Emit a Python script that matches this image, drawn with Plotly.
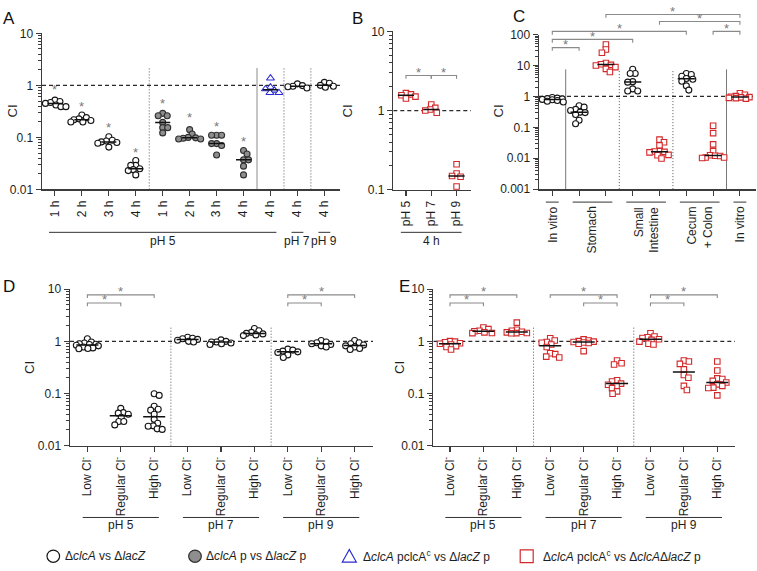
import numpy as np
import plotly.graph_objects as go

W, H = 757, 571
FONT = "Liberation Sans, Arial, Helvetica, sans-serif"
AXC = "#3c3c3c"
TXT = "#1e1e1e"
STAR = "#7a7a7a"

# ---------------- Panel A ----------------
a_ticklabels = ["1 h", "2 h", "3 h", "4 h", "1 h", "2 h", "3 h", "4 h", "4 h", "4 h", "4 h"]
a_kinds = ["open", "open", "open", "open", "gray", "gray", "gray", "gray", "tri", "open", "open"]
a_values = [
    [0.52, 0.49, 0.47, 0.45, 0.42, 0.39, 0.39],
    [0.27, 0.24, 0.227, 0.218, 0.211, 0.197, 0.197],
    [0.103, 0.088, 0.085, 0.082, 0.08, 0.077, 0.065],
    [0.036, 0.029, 0.029, 0.025, 0.024, 0.023, 0.019],
    [0.29, 0.26, 0.26, 0.194, 0.154, 0.154, 0.122],
    [0.141, 0.116, 0.1, 0.098, 0.096, 0.093, 0.093],
    [0.11, 0.11, 0.11, 0.076, 0.076, 0.07, 0.046],
    [0.056, 0.048, 0.037, 0.037, 0.028, 0.019],
    [1.37, 0.92, 0.85, 0.8, 0.72, 0.72],
    [1.07, 0.99, 0.96, 0.94, 0.89],
    [1.14, 1.1, 1.0, 0.96, 0.92],
]
a_star_levels = [0.89, 0.43, 0.17, 0.055, 0.48, 0.26, 0.18, 0.09]
a_group_labels = ["pH 5", "pH 7", "pH 9"]
a_group_spans = [(0, 8), (9, 9), (10, 10)]

# ---------------- Panel B ----------------
b_ticklabels = ["pH 5", "pH 7", "pH 9"]
b_kinds = ["sq", "sq", "sq"]
b_values = [
    [1.66, 1.6, 1.56, 1.5, 1.42],
    [1.19, 1.08, 1.03, 1.0, 0.94],
    [0.21, 0.16, 0.149, 0.146, 0.11],
]
b_brackets = [(0, 1, 2.77), (1, 2, 2.77)]
b_group_labels = ["4 h"]
b_group_spans = [(0, 2)]

# ---------------- Panel C ----------------
c_kinds = ["open", "open", "sq", "open", "sq", "open", "sq", "sq"]
c_values = [
    [0.92, 0.88, 0.85, 0.83, 0.8, 0.78, 0.74, 0.7, 0.66],
    [0.5, 0.45, 0.38, 0.35, 0.31, 0.3, 0.26, 0.17, 0.13],
    [48, 33, 26, 12, 11, 10.5, 10, 8.9, 7.8, 6.2],
    [7.6, 5.5, 5.5, 3.0, 2.9, 1.75, 1.5, 1.5],
    [0.04, 0.033, 0.026, 0.017, 0.0165, 0.016, 0.0155, 0.0128, 0.0125, 0.0098],
    [5.5, 5.1, 4.5, 3.8, 3.6, 3.1, 2.2, 1.6],
    [0.113, 0.065, 0.028, 0.017, 0.0125, 0.012, 0.0118, 0.0105, 0.0105, 0.0102],
    [1.27, 1.13, 1.02, 0.98, 0.95, 0.93, 0.9, 0.88, 0.85],
]
c_group_labels = ["In vitro", "Stomach", "Small<br>Intestine", "Cecum<br>+ Colon", "In vitro"]
c_group_spans = [(0, 0), (1, 2), (3, 4), (5, 6), (7, 7)]
c_brackets = [(0, 1, 38), (0, 3, 70), (0, 5, 127), (6, 7, 127), (4, 7, 265), (2, 7, 450)]

# ---------------- Panel D ----------------
cl_ticklabels = ["Low Cl<sup>-</sup>", "Regular Cl<sup>-</sup>", "High Cl<sup>-</sup>"] * 3
ph_group_labels = ["pH 5", "pH 7", "pH 9"]
ph_group_spans = [(0, 2), (3, 5), (6, 8)]
d_kinds = ["open"] * 9
d_values = [
    [1.12, 0.97, 0.93, 0.9, 0.88, 0.87, 0.84, 0.82, 0.78, 0.75, 0.73, 0.72],
    [0.052, 0.043, 0.042, 0.04, 0.035, 0.029, 0.029, 0.025],
    [0.099, 0.092, 0.057, 0.05, 0.048, 0.04, 0.032, 0.027, 0.024, 0.0235, 0.021, 0.0205],
    [1.2, 1.15, 1.12, 1.09, 1.05, 1.0, 0.97],
    [1.07, 1.0, 0.97, 0.97, 0.93, 0.9, 0.87],
    [1.77, 1.6, 1.49, 1.42, 1.39, 1.33, 1.29],
    [0.71, 0.68, 0.65, 0.63, 0.61, 0.55, 0.49],
    [1.04, 0.97, 0.94, 0.9, 0.87, 0.82, 0.78],
    [1.04, 0.94, 0.9, 0.85, 0.82, 0.78, 0.73, 0.7],
]
d_brackets = [(0, 1, 5.45), (0, 2, 7.8), (6, 7, 5.45), (6, 8, 7.8)]

# ---------------- Panel E ----------------
e_kinds = ["sq"] * 9
e_values = [
    [1.01, 0.99, 0.96, 0.92, 0.9, 0.87, 0.81, 0.78, 0.7],
    [1.85, 1.72, 1.6, 1.56, 1.49, 1.45, 1.44],
    [2.29, 1.67, 1.6, 1.53, 1.49, 1.45, 1.44, 1.43],
    [1.15, 1.04, 0.97, 0.94, 0.87, 0.78, 0.59, 0.57, 0.51, 0.49],
    [1.09, 1.04, 1.01, 0.99, 0.97, 0.95, 0.93, 0.9, 0.65],
    [0.43, 0.38, 0.36, 0.18, 0.17, 0.155, 0.147, 0.14, 0.127, 0.11, 0.099],
    [1.43, 1.24, 1.2, 1.16, 1.1, 1.07, 0.99, 0.9, 0.87],
    [0.43, 0.41, 0.37, 0.29, 0.226, 0.2, 0.14, 0.117],
    [0.41, 0.276, 0.195, 0.19, 0.175, 0.163, 0.15, 0.14, 0.13, 0.128, 0.092],
]
e_brackets = [(0, 1, 5.45), (0, 2, 7.8), (3, 5, 7.8), (4, 5, 5.45), (6, 7, 5.45), (6, 8, 7.8)]

# ---------------- legend ----------------
legend_texts = [
    "Δ<i>clcA</i> vs Δ<i>lacZ</i>",
    "Δ<i>clcA</i> p vs Δ<i>lacZ</i> p",
    "Δ<i>clcA</i> pclcA<sup>c</sup> vs Δ<i>lacZ</i> p",
    "Δ<i>clcA</i> pclcA<sup>c</sup> vs Δ<i>clcA</i>Δ<i>lacZ</i> p",
]
legend_kinds = ["open", "gray", "tri", "sq"]

# ================= styling / layout =================
STYLE = {
    "open": dict(symbol="circle", size=6, color="white", line=dict(color="#151515", width=1.1)),
    "gray": dict(symbol="circle", size=6, color="#8e8e8e", line=dict(color="#303030", width=1.1)),
    "tri": dict(symbol="triangle-up", size=7, color="white", line=dict(color="#2a2ad2", width=1.1)),
    "sq": dict(symbol="square", size=5.5, color="white", line=dict(color="#d2282a", width=1.1)),
}

PANELS = {
    "A": dict(n="", xdom=(42, 340), ydom=(187, 27), xr=(-0.48, 10.58), yr=(-2, 1), ppc=26.93, ppd=53.4, hw=0.28),
    "B": dict(n="2", xdom=(393.3, 471), ydom=(187.3, 25), xr=(-0.5, 2.57), yr=(-1, 1), ppc=25.3, ppd=81.1, hw=0.32),
    "C": dict(n="3", xdom=(539, 756), ydom=(186.7, 28.3), xr=(-0.496, 7.6), yr=(-3, 2), ppc=26.8, ppd=31.68, hw=0.32),
    "D": dict(n="4", xdom=(70, 373), ydom=(449.7, 289.3), xr=(-0.52, 8.55), yr=(-2, 1), ppc=33.4, ppd=53.5, hw=0.33),
    "E": dict(n="5", xdom=(433.3, 735), ydom=(449.7, 289.3), xr=(-0.5, 8.53), yr=(-2, 1), ppc=33.4, ppd=53.5, hw=0.33),
}


def pxx(p):
    return p / W


def pxy(p):
    return 1 - p / H


def swarm(vals, ppd, ppc, d=5.0, lim=11.0):
    """Simple beeswarm: horizontal pixel offsets so markers do not pile up."""
    y = np.log10(np.asarray(vals, float)) * ppd
    xs = np.zeros(len(y))
    placed = []
    cands = np.arange(-lim, lim + 0.01, 0.5)
    for k, i in enumerate(np.argsort(-y, kind="stable")):
        sgn = 1 if k % 2 == 0 else -1
        order = sorted(cands, key=lambda c: (abs(c), sgn * c))
        best, best_cost = 0.0, None
        for c in order:
            cost = sum(max(0.0, d * d - ((c - px) ** 2 + (y[i] - py) ** 2)) for px, py in placed)
            if cost == 0:
                best = c
                break
            if best_cost is None or cost < best_cost - 1e-9:
                best, best_cost = c, cost
        xs[i] = best
        placed.append((best, y[i]))
    return xs / ppc


fig = go.Figure()
layout = dict(
    width=W, height=H, margin=dict(l=0, r=0, t=0, b=0),
    paper_bgcolor="white", plot_bgcolor="rgba(0,0,0,0)",
    showlegend=False, font=dict(family=FONT, size=12, color=TXT),
)
shapes = []
annotations = []


def axis_pair(key, xticktext, yticks, nticks=None):
    P = PANELS[key]
    n = P["n"]
    xa, ya = "x" + n, "y" + n
    minor_vals = [m * 10.0 ** e for e in range(P["yr"][0], P["yr"][1]) for m in range(2, 10)]
    count = len(xticktext) if xticktext else nticks
    xax = dict(
        domain=[pxx(P["xdom"][0]), pxx(P["xdom"][1])], range=list(P["xr"]), anchor=ya,
        showline=True, linecolor=AXC, linewidth=1.4, ticks="outside", ticklen=5,
        tickwidth=1.1, tickcolor=AXC, tickvals=list(range(count)),
        tickangle=-90, tickfont=dict(family=FONT, size=12, color=TXT),
        showgrid=False, zeroline=False, fixedrange=True,
    )
    if xticktext:
        xax["ticktext"] = xticktext
    else:
        xax["showticklabels"] = False
    layout["xaxis" + n] = xax
    layout["yaxis" + n] = dict(
        domain=[pxy(P["ydom"][0]), pxy(P["ydom"][1])], type="log", range=list(P["yr"]),
        anchor=xa, showline=True, linecolor=AXC, linewidth=1.4, ticks="outside",
        ticklen=5, tickwidth=1.1, tickcolor=AXC,
        tickvals=yticks, ticktext=[("%g" % v) for v in yticks],
        tickfont=dict(family=FONT, size=12, color=TXT),
        minor=dict(tickvals=minor_vals, ticks="outside", ticklen=3, tickwidth=1, tickcolor=AXC),
        showgrid=False, zeroline=False, fixedrange=True,
    )
    return xa, ya


def add_refline(key, xa, ya):
    P = PANELS[key]
    fig.add_trace(go.Scatter(x=list(P["xr"]), y=[1, 1], mode="lines", xaxis=xa, yaxis=ya,
                             line=dict(color="#2a2a2a", width=1.2, dash="4px,3px"), hoverinfo="skip"))


def add_sep(key, xa, ya, pos, top, style):
    P = PANELS[key]
    if style == "dot":
        ln = dict(color="#555555", width=1, dash="1px,2px")
    elif style == "light":
        ln = dict(color="#b8b8b8", width=1.6)
    else:
        ln = dict(color="#777777", width=1)
    fig.add_trace(go.Scatter(x=[pos, pos], y=[10.0 ** P["yr"][0], top], mode="lines", xaxis=xa,
                             yaxis=ya, line=ln, hoverinfo="skip"))


def add_groups(key, xa, ya, kinds, values):
    P = PANELS[key]
    for i, (k, v) in enumerate(zip(kinds, values)):
        off = swarm(v, P["ppd"], P["ppc"])
        st = STYLE[k]
        fig.add_trace(go.Scatter(x=i + off, y=v, mode="markers", xaxis=xa, yaxis=ya,
                                 marker=dict(symbol=st["symbol"], size=st["size"], color=st["color"],
                                             line=st["line"]), hoverinfo="skip", cliponaxis=False))
    for i, v in enumerate(values):
        med = float(np.median(v))
        fig.add_trace(go.Scatter(x=[i - P["hw"], i + P["hw"]], y=[med, med], mode="lines", xaxis=xa,
                                 yaxis=ya, line=dict(color="#111111", width=1.5), hoverinfo="skip"))


def add_brackets(key, xa, ya, brackets):
    P = PANELS[key]
    drop = 10 ** (-3.3 / P["ppd"])
    for i, j, lev in brackets:
        fig.add_trace(go.Scatter(x=[i, i, j, j], y=[lev * drop, lev, lev, lev * drop], mode="lines",
                                 xaxis=xa, yaxis=ya, line=dict(color="#8a8a8a", width=1.1),
                                 hoverinfo="skip"))
        annotations.append(dict(x=(i + j) / 2, y=np.log10(lev), xref=xa, yref=ya, text="*",
                                showarrow=False, font=dict(size=13, color=STAR, family=FONT),
                                xanchor="center", yanchor="middle", yshift=3))


def add_group_lines(xa, spans, labels, line_py, text_py, pad):
    for (i, j), lab in zip(spans, labels):
        shapes.append(dict(type="line", xref=xa, yref="paper", x0=i - pad, x1=j + pad,
                           y0=pxy(line_py), y1=pxy(line_py), line=dict(color="#333333", width=1)))
        annotations.append(dict(x=(i + j) / 2, y=pxy(text_py), xref=xa, yref="paper", text=lab,
                                showarrow=False, yanchor="middle", xanchor="center",
                                font=dict(size=12, color=TXT, family=FONT)))


# ---- Panel A
xa, ya = axis_pair("A", a_ticklabels, [0.01, 0.1, 1, 10])
add_refline("A", xa, ya)
for pos, sty in [(3.5, "dot"), (7.5, "light"), (8.5, "dot"), (9.5, "dot")]:
    add_sep("A", xa, ya, pos, 2.15, sty)
add_groups("A", xa, ya, a_kinds, a_values)
for i, lev in enumerate(a_star_levels):
    annotations.append(dict(x=i, y=np.log10(lev), xref=xa, yref=ya, text="*", showarrow=False,
                            font=dict(size=13, color=STAR, family=FONT), xanchor="center",
                            yanchor="middle", yshift=-2))
add_group_lines(xa, a_group_spans, a_group_labels, 231, 239.7, 0.22)

# ---- Panel B
xa, ya = axis_pair("B", b_ticklabels, [0.1, 1, 10])
add_refline("B", xa, ya)
add_groups("B", xa, ya, b_kinds, b_values)
add_brackets("B", xa, ya, b_brackets)
add_group_lines(xa, b_group_spans, b_group_labels, 231, 239.7, 0.2)

# ---- Panel C
xa, ya = axis_pair("C", None, [0.001, 0.01, 0.1, 1, 10, 100], nticks=len(c_kinds))
add_refline("C", xa, ya)
for pos, sty in [(0.5, "solid"), (2.5, "dot"), (4.5, "dot"), (6.5, "solid")]:
    add_sep("C", xa, ya, pos, 7.5, sty)
add_groups("C", xa, ya, c_kinds, c_values)
# bracket band above panel C sharing the same log scale
PC = PANELS["C"]
top_px = 3
layout["yaxis6"] = dict(domain=[pxy(60), pxy(top_px)], type="log",
                        range=[1, 1 + (60 - top_px) / PC["ppd"]], anchor="x3", visible=False,
                        fixedrange=True)
add_brackets("C", xa, "y6", c_brackets)
for (i, j), lab in zip(c_group_spans, c_group_labels):
    shapes.append(dict(type="line", xref=xa, yref="paper", x0=i - 0.24, x1=j + 0.24,
                       y0=pxy(200), y1=pxy(200), line=dict(color="#333333", width=1)))
    annotations.append(dict(x=(i + j) / 2, y=pxy(202.5), xref=xa, yref="paper", text=lab,
                            showarrow=False, textangle=-90, yanchor="top", xanchor="center",
                            align="right", font=dict(size=12, color=TXT, family=FONT)))

# ---- Panel D
xa, ya = axis_pair("D", cl_ticklabels, [0.01, 0.1, 1, 10])
add_refline("D", xa, ya)
for pos in (2.5, 5.5):
    add_sep("D", xa, ya, pos, 2.0, "dot")
add_groups("D", xa, ya, d_kinds, d_values)
add_brackets("D", xa, ya, d_brackets)
add_group_lines(xa, ph_group_spans, ph_group_labels, 523.3, 531, 0.14)

# ---- Panel E
xa, ya = axis_pair("E", cl_ticklabels, [0.01, 0.1, 1, 10])
add_refline("E", xa, ya)
for pos in (2.5, 5.5):
    add_sep("E", xa, ya, pos, 2.0, "dot")
add_groups("E", xa, ya, e_kinds, e_values)
add_brackets("E", xa, ya, e_brackets)
add_group_lines(xa, ph_group_spans, ph_group_labels, 523.3, 531, 0.14)

# ---- axis titles & panel letters
for px_, py_ in [(12, 107), (347, 107), (498, 107), (30, 370), (400, 370)]:
    annotations.append(dict(x=pxx(px_), y=pxy(py_), xref="paper", yref="paper", text="CI",
                            textangle=-90, showarrow=False, xanchor="center", yanchor="middle",
                            font=dict(size=13, color=TXT, family=FONT)))
for lab, px_, py_ in [("A", 8.5, 11.5), ("B", 357.5, 11.5), ("C", 518.5, 9.5), ("D", 8.5, 286.5),
                      ("E", 405, 286.5)]:
    annotations.append(dict(x=pxx(px_), y=pxy(py_), xref="paper", yref="paper", text=lab,
                            showarrow=False, xanchor="center", yanchor="middle",
                            font=dict(size=17, color="#111111", family=FONT)))

# ---- legend (manual)
LEG_Y = 563
glyph_x = [53.3, 195, 349.3, 526.7]
text_x = [63.3, 204, 361, 541]
r = 6.3
for kind, gx, tx, txt in zip(legend_kinds, glyph_x, text_x, legend_texts):
    st = STYLE[kind]
    lc = st["line"]["color"]
    if kind in ("open", "gray"):
        shapes.append(dict(type="circle", xref="paper", yref="paper", x0=pxx(gx - r), x1=pxx(gx + r),
                           y0=pxy(LEG_Y + r), y1=pxy(LEG_Y - r), fillcolor=st["color"],
                           line=dict(color=lc, width=1.2)))
    elif kind == "tri":
        path = "M %f,%f L %f,%f L %f,%f Z" % (pxx(gx - 7), pxy(LEG_Y + 6), pxx(gx + 7), pxy(LEG_Y + 6),
                                              pxx(gx), pxy(LEG_Y - 7))
        shapes.append(dict(type="path", xref="paper", yref="paper", path=path, fillcolor="white",
                           line=dict(color=lc, width=1.2)))
    else:
        shapes.append(dict(type="rect", xref="paper", yref="paper", x0=pxx(gx - 6.5), x1=pxx(gx + 6.5),
                           y0=pxy(LEG_Y + 6.5), y1=pxy(LEG_Y - 6.5), fillcolor="white",
                           line=dict(color=lc, width=1.2)))
    annotations.append(dict(x=pxx(tx), y=pxy(LEG_Y), xref="paper", yref="paper", text=txt,
                            showarrow=False, xanchor="left", yanchor="middle",
                            font=dict(size=12, color=TXT, family=FONT)))

layout["shapes"] = shapes
layout["annotations"] = annotations
fig.update_layout(**layout)
fig.write_html("out.html", include_plotlyjs=True, config={"displayModeBar": False, "staticPlot": True},
               post_script="document.body.style.margin='0';")
